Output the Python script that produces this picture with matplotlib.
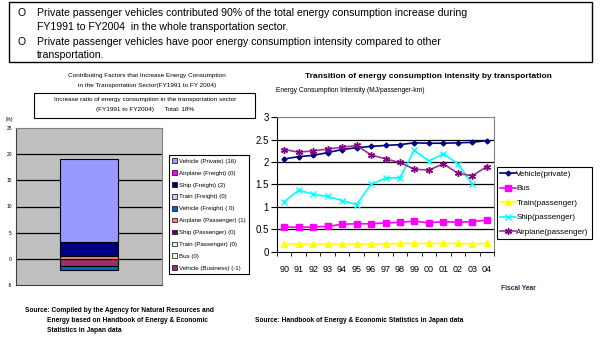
import matplotlib
matplotlib.use("Agg")
import matplotlib.pyplot as plt
import numpy as np
from matplotlib.patches import Rectangle, Patch

plt.rcParams["font.family"] = ["Liberation Sans", "DejaVu Sans"]

W, H = 600, 356

# --- left chart data (contribution to increase, %) ---
factor_labels = ["Vehicle (Private) (16)", "Airplane (Freight) (0)", "Ship (Freight) (2)",
                 "Train (Freight) (0)", "Vehicle (Freight) ( 0)", "Airplane (Passenger) (1)",
                 "Ship (Passenger) (0)", "Train (Passenger) (0)", "Bus (0)",
                 "Vehicle (Business) (-1)"]
factor_values = [15.8, 0, 2.6, 0, -0.7, 0.6, 0, 0, 0, -1.4]
factor_colors = ["#9999FF", "#FF00FF", "#000080", "#CCCCFF", "#0066CC",
                 "#FF8080", "#660066", "#CCFFFF", "#FFFFCC", "#993366"]

# --- right chart data (MJ/passenger-km) ---
years = ["90", "91", "92", "93", "94", "95", "96", "97", "98", "99", "00", "01", "02", "03", "04"]
vehicle_private = [2.07, 2.12, 2.15, 2.21, 2.28, 2.32, 2.35, 2.37, 2.39, 2.43, 2.42, 2.42, 2.43, 2.44, 2.48]
bus = [0.55, 0.54, 0.55, 0.56, 0.61, 0.62, 0.62, 0.64, 0.65, 0.68, 0.64, 0.67, 0.65, 0.67, 0.70]
train = [0.17, 0.17, 0.17, 0.17, 0.17, 0.17, 0.17, 0.17, 0.18, 0.18, 0.18, 0.18, 0.18, 0.17, 0.18]
ship = [1.11, 1.37, 1.28, 1.23, 1.14, 1.05, 1.50, 1.64, 1.65, 2.26, 2.02, 2.19, 1.96, 1.51, np.nan]
airplane = [2.28, 2.22, 2.25, 2.29, 2.33, 2.37, 2.16, 2.07, 1.99, 1.84, 1.82, 1.96, 1.75, 1.69, 1.90]


def rect(x0, y0, x1, y1):
    # pixel box (top-left origin) -> figure fraction rect
    return [x0 / W, 1 - y1 / H, (x1 - x0) / W, (y1 - y0) / H]


def fx(x):
    return x / W


def fy(y):
    return 1 - y / H


fig = plt.figure(figsize=(6, 3.56), dpi=100)

# top message box
fig.patches.append(Rectangle((fx(9), fy(62)), (592 - 9) / W, 60 / H, transform=fig.transFigure,
                             fill=False, edgecolor="black", linewidth=1))
msgs = [(13, "O", "Private passenger vehicles contributed 90% of the total energy consumption increase during"),
        (27, None, "FY1991 to FY2004  in the whole transportation sector."),
        (42, "O", "Private passenger vehicles have poor energy consumption intensity compared to other"),
        (55, None, "transportation.")]
for y, bullet, txt in msgs:
    if bullet:
        fig.text(fx(17), fy(y), bullet, fontsize=7.5, va="center", ha="left")
    fig.text(fx(37), fy(y), txt, fontsize=7.6, va="center", ha="left")

# ---------------- left chart ----------------
fig.text(fx(147), fy(76), "Contributing Factors that Increase Energy Consumption",
         fontsize=4.6, ha="center", va="center")
fig.text(fx(147), fy(86), "in the Transportation Sector(FY1991 to FY 2004)",
         fontsize=4.6, ha="center", va="center")
fig.patches.append(Rectangle((fx(34), fy(118)), (255 - 34) / W, 25 / H, transform=fig.transFigure,
                             fill=False, edgecolor="black", linewidth=0.8))
fig.text(fx(145), fy(100), "Increase ratio of energy consumption in the transportation sector",
         fontsize=4.6, ha="center", va="center")
fig.text(fx(145), fy(110), "(FY1991 to FY2004)      Total: 18%",
         fontsize=4.6, ha="center", va="center")
fig.text(fx(10), fy(119), "(%)", fontsize=3.5, ha="center", va="center")

ax1 = fig.add_axes(rect(16, 128, 162, 285))
ax1.set_facecolor("#C0C0C0")
pos, neg = 0.0, 0.0
# stacked in series order (last legend entry first)
for v, c in zip(factor_values[::-1], factor_colors[::-1]):
    if v == 0:
        continue
    if v > 0:
        ax1.bar(0, v, bottom=pos, width=0.4, color=c, edgecolor="black", linewidth=0.8, zorder=3)
        pos += v
    else:
        ax1.bar(0, v, bottom=neg, width=0.4, color=c, edgecolor="black", linewidth=0.8, zorder=3)
        neg += v
ax1.set_xlim(-0.5, 0.5)
ax1.set_ylim(-5, 25)
ax1.set_yticks(np.arange(-5, 26, 5))
ax1.set_yticklabels(["-5", "0", "5", "10", "15", "20", "25"], fontsize=3.5)
ax1.tick_params(axis="y", length=0, pad=3)
ax1.set_xticks([])
for yv in range(0, 25, 5):
    ax1.axhline(yv, color="black", linewidth=0.9, zorder=1)
ax1.spines["left"].set_color("#404040")
ax1.spines["bottom"].set_color("#404040")
ax1.spines["top"].set_color("#808080")
ax1.spines["right"].set_color("#808080")

handles = [Patch(facecolor=c, edgecolor="black", linewidth=0.5) for c in factor_colors]
fig.legend(handles, factor_labels, loc="upper left", bbox_to_anchor=(fx(169), fy(155)),
           fontsize=4.4, frameon=True, fancybox=False, edgecolor="black", framealpha=1,
           handlelength=0.8, handleheight=0.8, handletextpad=0.3, labelspacing=1.05,
           borderpad=0.55, borderaxespad=0).get_frame().set_linewidth(0.8)

fig.text(fx(25), fy(310), "Source: Compiled by the Agency for Natural Resources and",
         fontsize=4.8, fontweight="bold", va="center")
fig.text(fx(47), fy(320), "Energy based on Handbook of Energy & Economic",
         fontsize=4.8, fontweight="bold", va="center")
fig.text(fx(47), fy(331), "Statistics in Japan data",
         fontsize=4.8, fontweight="bold", va="center")

# ---------------- right chart ----------------
fig.text(fx(428), fy(76), "Transition of energy consumption intensity by transportation",
         fontsize=6, fontweight="bold", ha="center", va="center")
fig.text(fx(276), fy(90), "Energy Consumption Intensity (MJ/passenger-km)",
         fontsize=4.8, ha="left", va="center")

ax2 = fig.add_axes(rect(277, 117.3, 494, 251.5))
x = np.arange(len(years))
series = [
    (vehicle_private, "Vehicle(private)", "#000080", "D", 2.5, "#000080"),
    (bus, "Bus", "#FF00FF", "s", 4.5, "#FF00FF"),
    (train, "Train(passenger)", "#FFFF00", "^", 4, "#FFFF00"),
    (ship, "Ship(passenger)", "#00FFFF", "x", 5, "#00FFFF"),
    (airplane, "Airplane(passenger)", "#993399", (6, 2, 0), 5, "#800080"),
]
lines = []
for vals, lab, col, mk, ms, mcol in series:
    ln, = ax2.plot(x, vals, color=col, linewidth=1.2, marker=mk, markersize=ms,
                   markerfacecolor=mcol, markeredgecolor=mcol, markeredgewidth=1, label=lab, zorder=3)
    lines.append(ln)
ax2.set_xlim(-0.5, len(years) - 0.5)
ax2.set_ylim(0, 3)
ax2.set_yticks(np.arange(0, 3.01, 0.5))
ax2.set_yticklabels(["0", "0.5", "1", "1.5", "2", "2.5", "3"], fontsize=7)
ax2.set_xticks(x)
ax2.set_xticklabels(years, fontsize=6.5)
ax2.set_xticks(np.arange(-0.5, len(years), 1), minor=True)
ax2.tick_params(axis="x", which="major", length=0, pad=10)
ax2.tick_params(axis="x", which="minor", length=3, direction="out")
ax2.tick_params(axis="y", length=4, direction="out", pad=2)
for yv in np.arange(0.5, 3.0, 0.5):
    ax2.axhline(yv, color="black", linewidth=0.9, zorder=1)
ax2.spines["top"].set_color("#808080")
ax2.spines["right"].set_color("#808080")

leg2 = fig.legend(lines, [s[1] for s in series], loc="upper left", bbox_to_anchor=(fx(497), fy(167)),
                  fontsize=5.8, frameon=True, fancybox=False, edgecolor="black", framealpha=1,
                  handlelength=1.9, handletextpad=0.1, labelspacing=0.85, borderpad=0.4,
                  borderaxespad=0)
leg2.get_frame().set_linewidth(0.8)

fig.text(fx(518), fy(288), "Fiscal Year", fontsize=4.8, fontweight="bold", color="#1F2A55",
         ha="center", va="center")
fig.text(fx(255), fy(320), "Source: Handbook of Energy & Economic Statistics in Japan data",
         fontsize=4.8, fontweight="bold", va="center")

fig.savefig("out.png", dpi=100)
